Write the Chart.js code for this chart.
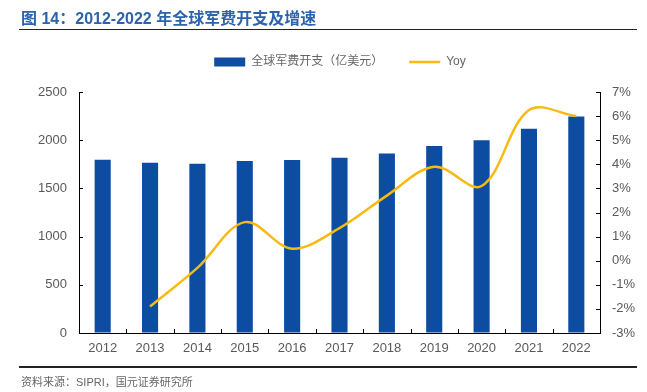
<!DOCTYPE html>
<html>
<head>
<meta charset="utf-8">
<script src="https://cdn.jsdelivr.net/npm/chart.js@4"></script>
<style>
  body { margin: 0; background: #fff; }
  #wrap { position: relative; width: 647px; height: 392px; overflow: hidden; font-family: "Liberation Sans", "Noto Sans CJK SC", sans-serif; }
  #c { position: absolute; left: 0; top: 0; }
  .title { position: absolute; left: 21px; top: 5px; font-size: 16px; font-weight: bold; color: #2d63ad; white-space: nowrap; }
  .rule-top { position: absolute; left: 19px; top: 29px; width: 618px; height: 0; border-top: 1.5px solid #222; }
  .rule-bot { position: absolute; left: 19px; top: 366px; width: 618px; height: 0; border-top: 2.5px solid #222; }
  .source { position: absolute; left: 21px; top: 373px; font-size: 11px; color: #666; white-space: nowrap; }
</style>
</head>
<body>
<div id="wrap">
  <canvas id="c" width="647" height="392"></canvas>
  <div class="title">图 14：2012-2022 年全球军费开支及增速</div>
  <div class="rule-top"></div>
  <div class="rule-bot"></div>
  <div class="source">资料来源：SIPRI，国元证券研究所</div>
</div>
<script>
// data
const years = ['2012', '2013', '2014', '2015', '2016', '2017', '2018', '2019', '2020', '2021', '2022'];
const spending = [1798, 1767, 1756, 1785, 1795, 1818, 1862, 1940, 2000, 2120, 2245]; // 亿美元
const yoy = [null, -1.9, -0.3, 1.6, 0.5, 1.35, 2.7, 3.9, 3.1, 6.25, 6.0]; // %

const textGrey = '#595959';

// Excel style: small tick marks pointing into the plot
const innerTicks = {
  id: 'innerTicks',
  afterDatasetsDraw(chart) {
    const { ctx, chartArea, scales } = chart;
    const len = 4;
    ctx.save();
    ctx.strokeStyle = '#000';
    ctx.lineWidth = 1;
    ctx.beginPath();
    scales.y.ticks.forEach((t, i) => {
      const y = Math.round(scales.y.getPixelForTick(i)) + 0.5;
      ctx.moveTo(chartArea.left, y);
      ctx.lineTo(chartArea.left + len, y);
    });
    scales.y1.ticks.forEach((t, i) => {
      const y = Math.round(scales.y1.getPixelForTick(i)) + 0.5;
      ctx.moveTo(chartArea.right, y);
      ctx.lineTo(chartArea.right - len, y);
    });
    for (let i = 1; i < years.length; i++) {
      const x = Math.round((scales.x.getPixelForTick(i - 1) + scales.x.getPixelForTick(i)) / 2) + 0.5;
      ctx.moveTo(x, chartArea.bottom);
      ctx.lineTo(x, chartArea.bottom - len);
    }
    ctx.stroke();
    ctx.restore();
  }
};

// fixed legend height so the plot top lands where the reference has it
const legendHeight = {
  id: 'legendHeight',
  beforeInit(chart) {
    const fit = chart.legend.fit;
    chart.legend.fit = function () {
      fit.call(this);
      this.height = 62;
    };
  }
};

new Chart(document.getElementById('c'), {
  data: {
    labels: years,
    datasets: [
      {
        type: 'bar',
        label: '全球军费开支（亿美元）',
        data: spending,
        backgroundColor: '#0c4da2',
        borderWidth: 0,
        barPercentage: 0.34,
        categoryPercentage: 1,
        pointStyle: 'rect',
        yAxisID: 'y',
        order: 2
      },
      {
        type: 'line',
        label: 'Yoy',
        data: yoy,
        borderColor: '#f8b910',
        backgroundColor: '#f8b910',
        borderWidth: 2.5,
        pointRadius: 0,
        tension: 0.35,
        pointStyle: 'line',
        yAxisID: 'y1',
        order: 1
      }
    ]
  },
  options: {
    responsive: false,
    animation: false,
    layout: { padding: { top: 30, left: 33, right: 0, bottom: 0 } },
    plugins: {
      tooltip: { enabled: false },
      legend: {
        position: 'top',
        reverse: true,
        labels: {
          usePointStyle: true,
          pointStyleWidth: 31,
          boxHeight: 9,
          padding: 26,
          color: '#666',
          font: { size: 12, family: '"Liberation Sans", "Noto Sans CJK SC", sans-serif' }
        }
      }
    },
    scales: {
      x: {
        grid: { display: false, drawTicks: false },
        border: { display: true, color: '#000', width: 1 },
        ticks: { color: textGrey, padding: 8, font: { size: 13, family: '"Liberation Sans", sans-serif' } },
        afterFit(s) { s.height = 59; }
      },
      y: {
        position: 'left',
        min: 0,
        max: 2500,
        grid: { drawOnChartArea: false, drawTicks: false },
        border: { display: true, color: '#000', width: 1 },
        ticks: {
          stepSize: 500,
          color: textGrey,
          padding: 12,
          font: { size: 13, family: '"Liberation Sans", sans-serif' },
          callback: v => String(v)
        },
        afterFit(s) { s.width = 46; }
      },
      y1: {
        position: 'right',
        min: -3,
        max: 7,
        grid: { drawOnChartArea: false, drawTicks: false },
        border: { display: true, color: '#000', width: 1 },
        ticks: {
          stepSize: 1,
          color: textGrey,
          padding: 12,
          font: { size: 13, family: '"Liberation Sans", sans-serif' },
          callback: v => v + '%'
        },
        afterFit(s) { s.width = 47; }
      }
    }
  },
  plugins: [innerTicks, legendHeight]
});
</script>
</body>
</html>
